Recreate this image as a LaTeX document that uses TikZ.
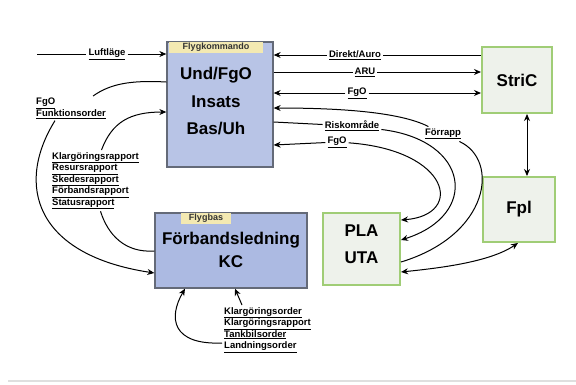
\documentclass[tikz,border=0pt]{standalone}
\usepackage{fontspec}
\setmainfont{Liberation Sans}
\usetikzlibrary{arrows.meta,calc}
\definecolor{fkblue}{RGB}{184,196,230}
\definecolor{fbblue}{RGB}{172,186,226}
\definecolor{boxedge}{RGB}{100,106,120}
\definecolor{tabyel}{RGB}{243,233,178}
\definecolor{grnedge}{RGB}{160,205,118}
\definecolor{grnfill}{RGB}{238,242,235}
\tikzset{
  bluebox/.style={draw=boxedge,line width=1.3pt,inner sep=0pt},
  greenbox/.style={draw=grnedge,fill=grnfill,line width=2pt,inner sep=0pt},
  tabnode/.style={fill=tabyel,inner sep=1.5pt,text=black!80,font=\bfseries\fontsize{9}{10}\selectfont},
  bigtext/.style={inner sep=0pt,font=\bfseries\fontsize{17}{20}\selectfont},
  lbl/.style={fill=white,inner sep=2pt,font=\bfseries\fontsize{9.5}{11.5}\selectfont},
  plain/.style={line width=1pt},
  conn/.style={line width=1pt,-{Stealth[length=7pt,width=6pt]}},
  dconn/.style={line width=1pt,{Stealth[length=7pt,width=6pt]}-{Stealth[length=7pt,width=6pt]}}
}
\begin{document}
\begin{tikzpicture}[x=1pt,y=-1pt]
\useasboundingbox (0,0) rectangle (576,384);
% boxes
\node[bluebox,fill=fkblue,minimum width=106pt,minimum height=125pt] (fk) at (220,104.5) {};
\node[tabnode,minimum width=94pt,minimum height=11pt] (fktab) at (216,47.5) {Flygkommando};
\node[bigtext] (fk1) at (216,75) {Und/FgO};
\node[bigtext] (fk2) at (216,102) {Insats};
\node[bigtext] (fk3) at (216,129) {Bas/Uh};

\node[bluebox,fill=fbblue,minimum width=152pt,minimum height=75pt] (fb) at (231,250.5) {};
\node[tabnode,minimum width=50pt,minimum height=11pt] (fbtab) at (206,218.5) {Flygbas};
\node[bigtext] (fb1) at (231,240) {Förbandsledning};
\node[bigtext] (fb2) at (231,262) {KC};

\node[greenbox,minimum width=70pt,minimum height=66pt] (stric) at (517,80) {};
\node[bigtext] (strict) at (517,80) {StriC};
\node[greenbox,minimum width=72pt,minimum height=65pt] (fpl) at (519,209.5) {};
\node[bigtext] (fplt) at (519,209) {Fpl};
\node[greenbox,minimum width=77pt,minimum height=72pt] (pla) at (361.5,249) {};
\node[bigtext] (pla1) at (361.5,231) {PLA};
\node[bigtext] (pla2) at (361.5,258) {UTA};

% right side connectors
\node[lbl] (ldir) at (355,55) {\underline{Direkt/Auro}};
\draw[conn] (ldir) -- (fk.east |- ldir);
\draw[plain] (ldir) -- (stric.west |- ldir);

\node[lbl] (laru) at (365,72) {\underline{ARU}};
\draw[plain] (fk.east |- laru) -- (laru);
\draw[conn] (laru) -- (stric.west |- laru);

\node[lbl] (lfgo1) at (357,93) {\underline{FgO}};
\draw[conn] (lfgo1) -- (fk.east |- lfgo1);
\draw[conn] (lfgo1) -- (stric.west |- lfgo1);

\node[lbl] (lrisk) at (352,126) {\underline{Riskområde}};
\draw[plain] (fk.east |- 0,122) -- (lrisk);
\draw[conn] (lrisk) .. controls (470,140) and (480,215) .. (pla.east |- 0,240);

\node[lbl] (lfgo2) at (337,142) {\underline{FgO}};
\draw[conn] (lfgo2) -- (fk.east |- 0,145);
\draw[conn] (lfgo2) .. controls (450,150) and (465,215) .. (pla.east |- 0,220);

\node[lbl] (lfor) at (443,134) {\underline{Förrapp}};
\draw[plain] (pla.east |- 0,262) .. controls (490,235) and (500,160) .. (lfor);
\draw[conn] (lfor) .. controls (400,112) and (340,108) .. (fk.east |- 0,108);

\draw[dconn] (stric.south -| 527,0) -- (fpl.north -| 527,0);
\draw[dconn] (pla.east |- 0,272) .. controls (440,268) and (490,262) .. (fpl.south -| 518,0);

% left side
\coordinate (luftstart) at (37,54);
\node[lbl] (lluft) at (107,54) {\underline{Luftläge}};
\draw[plain] (luftstart) -- (lluft);
\draw[conn] (lluft) -- (fk.west |- lluft);

\node[lbl,align=left,anchor=north west] (lfgof) at (34,96) {\underline{FgO}\\\underline{Funktionsorder}};
\draw[plain] (fk.west |- 0,82) .. controls (130,80) and (110,84) .. ($(lfgof.north east)+(-15,0)$);
\draw[conn] ($(lfgof.south west)+(21,0)$) .. controls (15,185) and (35,255) .. (fb.west |- 0,273);

\node[lbl,align=left,anchor=north west] (lrapp) at (50,150) {\underline{Klargöringsrapport}\\\underline{Resursrapport}\\\underline{Skedesrapport}\\\underline{Förbandsrapport}\\\underline{Statusrapport}};
\draw[plain] (fb.west |- 0,251) .. controls (125,253) and (108,235) .. ($(lrapp.south)+(5,0)$);
\draw[conn] ($(lrapp.north)+(6,0)$) .. controls (112,122) and (130,112) .. (fk.west |- 0,112);

% bottom
\node[lbl,align=left,anchor=north west] (lbot) at (222,305) {\underline{Klargöringsorder}\\\underline{Klargöringsrapport}\\\underline{Tankbilsorder}\\\underline{Landningsorder}};
\draw[conn] ($(lbot.north west)+(20,0)$) -- (fb.south -| 235,0);
\draw[conn] (lbot.west |- 0,343) .. controls (172,345) and (168,318) .. (fb.south -| 185,0);

\draw[gray!25,line width=1.5pt] (8,381) -- (576,381);
\end{tikzpicture}
\end{document}
